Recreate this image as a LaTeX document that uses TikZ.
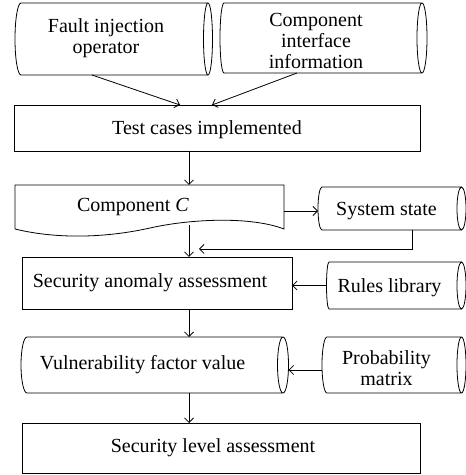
\documentclass[tikz,border=0pt]{standalone}
\usepackage{fontspec}
\setmainfont{Liberation Serif}
\usetikzlibrary{arrows.meta,calc}
\newcommand\storeddata[3]{%
  \draw[ln] let \p1=(#1.north), \p2=(#1.south), \n1={(\y1-\y2)/2} in
    (#1.north east) -- (#1.north west)
    arc[start angle=90, end angle=270, x radius=#2pt, y radius=\n1]
    -- (#1.south east)
    (#1.east) ellipse [x radius=#3pt, y radius=\n1];}
\begin{document}
\begin{tikzpicture}[x=1pt,y=1pt,
  ln/.style={line width=0.8pt, black},
  geom/.style={inner sep=0pt, outer sep=0pt, minimum width=#1},
  rectbox/.style={draw, ln, inner sep=0pt, outer sep=0pt},
  txt/.style={font=\fontsize{20}{21}\selectfont, align=center, inner sep=0pt},
  arr/.style={ln, -{Straight Barb[length=4.5pt,width=9pt]}}]
\useasboundingbox (0,0) rectangle (466,475);

% geometry nodes
\node[geom=187, minimum height=72] (fault) at (114.5,436) {};
\node[geom=198, minimum height=70] (cif) at (323,437) {};
\node[rectbox, minimum width=406, minimum height=46] (test) at (217,347) {};
\node[geom=269, minimum height=44] (compC) at (149.5,268) {};
\node[geom=139.5, minimum height=43] (sys) at (391.75,266.5) {};
\node[rectbox, minimum width=270, minimum height=52] (sec) at (157,192) {};
\node[geom=132.5, minimum height=47] (rules) at (395.25,189.5) {};
\node[geom=256, minimum height=56] (vuln) at (155,110) {};
\node[geom=134.5, minimum height=56] (prob) at (394.25,110) {};
\node[rectbox, minimum width=398, minimum height=50] (level) at (221,27) {};

% shapes
\storeddata{fault}{6}{4.5}
\storeddata{cif}{4}{5}
\storeddata{sys}{4}{4.5}
\storeddata{rules}{2.5}{4.5}
\storeddata{vuln}{6}{5.5}
\storeddata{prob}{5}{4.5}
\draw[ln] (compC.south west) -- (compC.north west) -- (compC.north east) -- (compC.south east)
  .. controls (250,259) and (190,256) .. (150,247)
  .. controls (110,238) and (60,235) .. (compC.south west);

% texts
\node[txt] (faultT) at (106,437) {Fault injection\\operator};
\node[txt] (cifT) at (316,434.5) {Component\\interface\\information};
\node[txt] (testT) at (207,345) {Test cases implemented};
\node[txt] (compCT) at (133,268) {Component \textit{C}};
\node[txt] (sysT) at (386.5,264) {System state};
\node[txt] (secT) at (150,192) {Security anomaly assessment};
\node[txt] (rulesT) at (389.5,187) {Rules library};
\node[txt] (vulnT) at (142.5,110) {Vulnerability factor value};
\node[txt] (probT) at (386.5,107) {Probability\\matrix};
\node[txt] (levelT) at (213,27) {Security level assessment};

% connectors
\coordinate (spine) at (189,0);
\coordinate (cbot) at (189,250);
\coordinate (fb) at (412,226);
\draw[arr] ([xshift=-22.5pt]fault.south) -- ([xshift=-37pt]test.north);
\draw[arr] ([xshift=-26pt]cif.south) -- ([xshift=-5pt]test.north);
\draw[arr] (test.south -| spine) -- (compC.north -| spine);
\draw[arr] ([yshift=-2.5pt]sys.west -| compC.east) -- ([xshift=-4pt,yshift=-2.5pt]sys.west);
\draw[arr] (sys.south -| fb) -- (fb) -- ([xshift=10pt]fb -| spine);
\draw[arr] (cbot) -- (sec.north -| spine);
\draw[arr] ([xshift=-2.5pt]rules.west) -- (sec.east |- rules.west);
\draw[arr] (sec.south -| spine) -- (vuln.north -| spine);
\draw[arr] ([xshift=-5pt,yshift=-5pt]prob.west) -- ([xshift=5.5pt,yshift=-5pt]vuln.east);
\draw[arr] (vuln.south -| spine) -- (level.north -| spine);
\end{tikzpicture}
\end{document}
